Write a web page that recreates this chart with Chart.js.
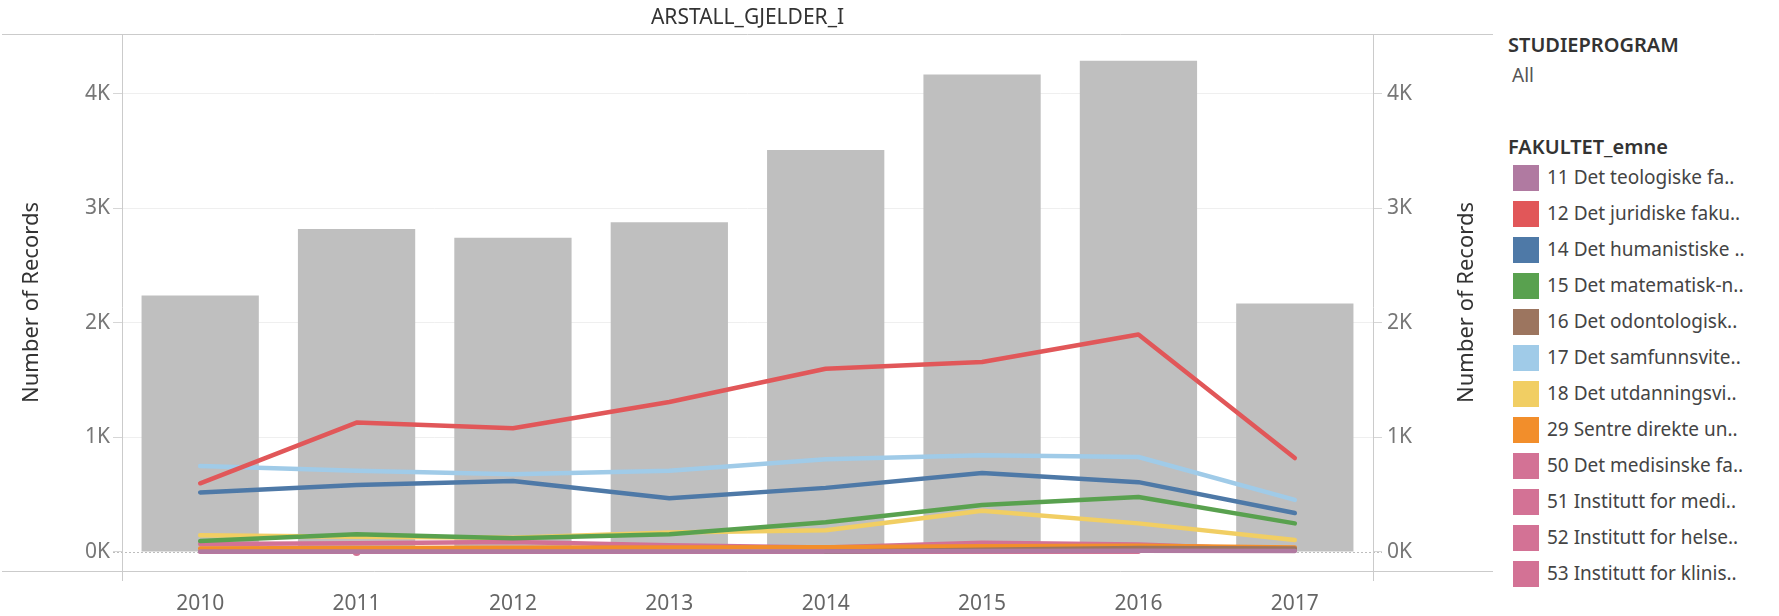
<!DOCTYPE html>
<html>
<head>
<meta charset="utf-8">
<script src="https://cdn.jsdelivr.net/npm/chart.js@4"></script>
<style>
  body { margin: 0; background: #fff; font-family: "Noto Sans", sans-serif; }
  #wrap { position: relative; width: 1779px; height: 616px; }
  #chart { position: absolute; left: 0; top: 0; }
  .lg { position: absolute; color: #333; white-space: nowrap; line-height: 1; }
  .lg-head { font-size: 20px; font-weight: 600; }
  .lg-item { font-size: 19px; color: #444; }
  .sw { position: absolute; width: 26px; height: 26px; }
</style>
</head>
<body>
<div id="wrap">
  <canvas id="chart" width="1495" height="616"></canvas>
  <div id="legend"></div>
</div>
<script>
// data
const years = ["2010", "2011", "2012", "2013", "2014", "2015", "2016", "2017"];
const totalRecords = [2240, 2820, 2745, 2880, 3510, 4170, 4290, 2170];
const teologi11 = [5, 5, 5, 5, 5, 8, 10, 8];
const juridisk12 = [600, 1130, 1080, 1310, 1600, 1660, 1900, 820];
const humanist14 = [520, 585, 620, 470, 560, 690, 610, 340];
const matnat15 = [95, 155, 120, 155, 260, 410, 480, 250];
const odonto16 = [null, null, null, null, 2, 20, 35, 30];
const samfunn17 = [750, 710, 680, 710, 810, 845, 830, 455];
const utdann18 = [146, 134, 125, 170, 190, 360, 250, 105];
const sentre29 = [30, 35, 38, 40, 42, 50, 55, 40];
const medisin50 = [70, 76, 87, 58, 40, 80, 65, 15];
const inst51 = [null, 0, null, null, null, null, null, null];
const inst52 = [3, 3, 3, 3, 3, 3, 3, null];
const inst53 = [null, null, null, null, null, null, null, null];
const yTickValues = [0, 1000, 2000, 3000, 4000];

const faknavn = ["11 Det teologiske fa..", "12 Det juridiske faku..", "14 Det humanistiske ..",
  "15 Det matematisk-n..", "16 Det odontologisk..", "17 Det samfunnsvite..",
  "18 Det utdanningsvi..", "29 Sentre direkte un..", "50 Det medisinske fa..",
  "51 Institutt for medi..", "52 Institutt for helse..", "53 Institutt for klinis.."];
const farger = ["#b07aa1", "#e15759", "#4e79a7", "#59a14f", "#9c755f", "#a0cbe8",
  "#f1ce63", "#f28e2b", "#d37295", "#d37295", "#d37295", "#d37295"];
const serier = [teologi11, juridisk12, humanist14, matnat15, odonto16, samfunn17,
  utdann18, sentre29, medisin50, inst51, inst52, inst53];

const FONT = "Noto Sans";

// legend on the right side
let legend = document.getElementById("legend");
let html = '<div class="lg lg-head" style="left:1508px;top:35px">STUDIEPROGRAM</div>';
html += '<div class="lg lg-item" style="left:1512px;top:66px;color:#555">All</div>';
html += '<div class="lg lg-head" style="left:1508px;top:137px">FAKULTET_emne</div>';
for (let i = 0; i < faknavn.length; i++) {
  let y = 178 + i * 36;
  html += '<div class="sw" style="left:1513px;top:' + (y - 13) + 'px;background:' + farger[i] + '"></div>';
  html += '<div class="lg lg-item" style="left:1547px;top:' + (y - 10) + 'px">' + faknavn[i] + '</div>';
}
legend.innerHTML = html;

// frame, title, axis titles and dotted zero line like the Tableau view
const ramme = {
  id: "ramme",
  beforeDatasetsDraw(chart) {
    const c = chart.ctx;
    const y0 = chart.scales.y.getPixelForValue(0);
    c.save();
    c.strokeStyle = "#bdbdbd";
    c.lineWidth = 1;
    c.setLineDash([2, 2]);
    c.beginPath();
    c.moveTo(113, Math.round(y0) + 0.5);
    c.lineTo(1382, Math.round(y0) + 0.5);
    c.stroke();
    c.restore();
  },
  afterDraw(chart) {
    const c = chart.ctx;
    const a = chart.chartArea;
    c.save();
    c.strokeStyle = "#cbcbcb";
    c.lineWidth = 1;
    c.beginPath();
    c.moveTo(2, a.top + 0.5); c.lineTo(1493, a.top + 0.5);
    c.moveTo(2, a.bottom + 0.5); c.lineTo(1493, a.bottom + 0.5);
    c.moveTo(a.left + 0.5, a.top); c.lineTo(a.left + 0.5, a.bottom + 10);
    c.moveTo(a.right + 0.5, a.top); c.lineTo(a.right + 0.5, a.bottom + 10);
    c.stroke();

    c.fillStyle = "#333";
    c.font = "21px '" + FONT + "'";
    c.textAlign = "center";
    c.textBaseline = "middle";
    c.fillText("ARSTALL_GJELDER_I", (a.left + a.right) / 2, 18);

    c.font = "22px '" + FONT + "'";
    const midY = (a.top + a.bottom) / 2;
    c.translate(32, midY);
    c.rotate(-Math.PI / 2);
    c.fillText("Number of Records", 0, 0);
    c.rotate(Math.PI / 2);
    c.translate(1467 - 32, 0);
    c.rotate(-Math.PI / 2);
    c.fillText("Number of Records", 0, 0);
    c.restore();
  }
};

let datasets = [];
for (let i = 0; i < serier.length; i++) {
  datasets.push({
    type: "line",
    label: faknavn[i],
    data: serier[i],
    borderColor: farger[i],
    backgroundColor: farger[i],
    borderWidth: 4.5,
    borderCapStyle: "round",
    borderJoinStyle: "round",
    pointRadius: serier[i].filter(v => v !== null).length === 1 ? 4 : 0,
    pointBorderWidth: 0,
    tension: 0,
    yAxisID: "y",
  });
}
datasets.push({
  type: "bar",
  label: "Number of Records",
  data: totalRecords,
  backgroundColor: "#bfbfbf",
  barPercentage: 0.75,
  categoryPercentage: 1,
  yAxisID: "y",
  order: 100,
});

const tickFormat = (v) => v / 1000 + "K";

new Chart(document.getElementById("chart"), {
  data: { labels: years, datasets: datasets },
  options: {
    responsive: false,
    animation: false,
    devicePixelRatio: 1,
    layout: { padding: { top: 34, left: 0, right: 0, bottom: 0 } },
    plugins: { legend: { display: false }, tooltip: { enabled: false } },
    scales: {
      x: {
        offset: true,
        grid: { display: false, drawTicks: false },
        border: { display: false },
        ticks: { color: "#666", padding: 20, font: { family: FONT, size: 21 } },
        afterFit: (s) => { s.height = 45; },
      },
      y: {
        position: "left",
        min: -166,
        max: 4524,
        afterBuildTicks: (s) => { s.ticks = yTickValues.map(v => ({ value: v })); },
        grid: {
          color: (ctx) => (ctx.tick && ctx.tick.value === 0 ? "rgba(0,0,0,0)" : "#efefef"),
          tickColor: "#d6d6d6",
          tickLength: 9,
        },
        border: { display: false },
        ticks: { color: "#777", padding: 3, font: { family: FONT, size: 21 }, callback: tickFormat },
        afterFit: (s) => { s.width = 122; },
      },
      y1: {
        position: "right",
        min: -166,
        max: 4524,
        afterBuildTicks: (s) => { s.ticks = yTickValues.map(v => ({ value: v })); },
        grid: { drawOnChartArea: false, tickColor: "#d6d6d6", tickLength: 9 },
        border: { display: false },
        ticks: { color: "#777", padding: 5, font: { family: FONT, size: 21 }, callback: tickFormat },
        afterFit: (s) => { s.width = 122; },
      },
    },
  },
  plugins: [ramme],
});
</script>
</body>
</html>
